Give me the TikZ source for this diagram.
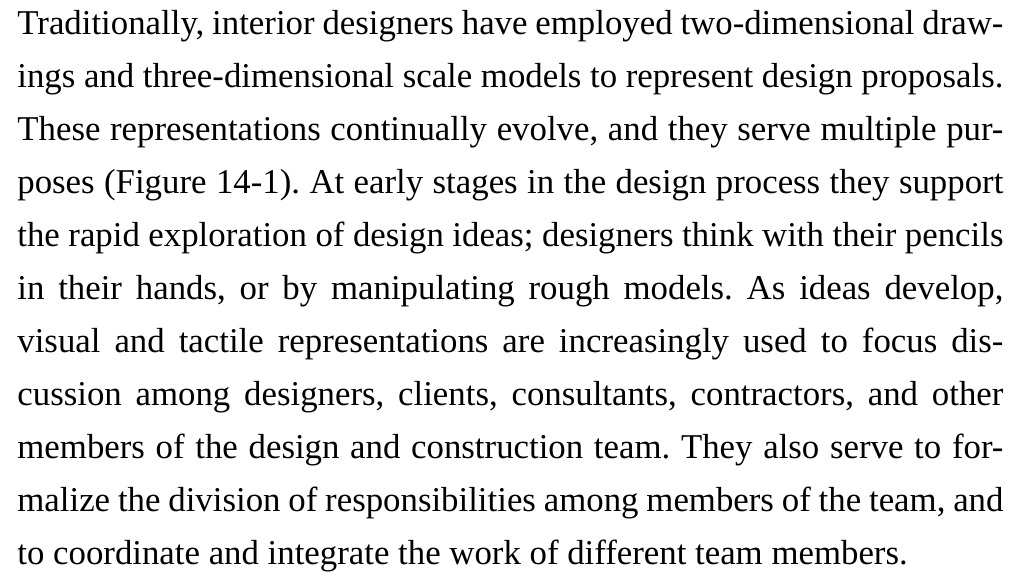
\documentclass[tikz,border=0pt]{standalone}
\usepackage{fontspec}
\setmainfont{Liberation Serif}
\frenchspacing

\newcommand{\linewd}{493pt}

\begin{document}
\begin{tikzpicture}[
    textline/.style={anchor=base west, inner sep=0pt, font=\fontsize{17.4}{26.5}\selectfont},
  ]
  \useasboundingbox (0,0) rectangle (510pt,288.5pt);

  % justified lines of the paragraph
  \foreach \t [count=\n] in {
      {Traditionally, interior designers have employed two-dimensional draw-},
      {ings and three-dimensional scale models to represent design proposals.},
      {These representations continually evolve, and they serve multiple pur-},
      {poses (Figure 14-1). At early stages in the design process they support},
      {the rapid exploration of design ideas; designers think with their pencils},
      {in their hands, or by manipulating rough models. As ideas develop,},
      {visual and tactile representations are increasingly used to focus dis-},
      {cussion among designers, clients, consultants, contractors, and other},
      {members of the design and construction team. They also serve to for-},
      {malize the division of responsibilities among members of the team, and},
    } {
      \node[textline] (line\n) at (8.5pt, {271pt-(\n-1)*26.5pt}) {\makebox[\linewd][s]{\t}};
    }

  % last line, not spread
  \node[textline] (line11) at (8.5pt, 6pt) {to coordinate and integrate the work of different team members.};
\end{tikzpicture}
\end{document}
